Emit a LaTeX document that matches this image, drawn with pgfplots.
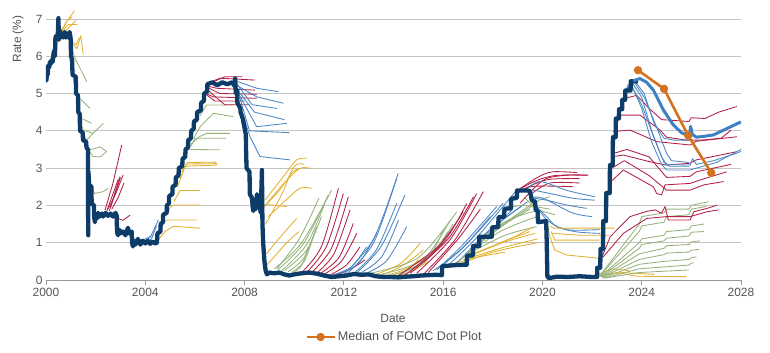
\documentclass[border=0pt]{standalone}
\usepackage{pgfplots}
\pgfplotsset{compat=1.18}
\usepackage{fontspec}
\setmainfont{Liberation Sans}
\definecolor{navy}{HTML}{0D3C68}
\definecolor{fblue}{HTML}{4A85C4}
\definecolor{tblue}{HTML}{3F80C2}
\definecolor{fred}{HTML}{B21E45}
\definecolor{fgreen}{HTML}{95B27A}
\definecolor{fyel}{HTML}{E4B12E}
\definecolor{dotor}{HTML}{D3731F}
\definecolor{txt}{HTML}{555555}
\definecolor{gridc}{HTML}{C4C4C4}
\pgfplotsset{
 fc/.style={forget plot, line width=0.85bp, line join=round},
 Y/.style={fc, fyel},
 G/.style={fc, fgreen},
 R/.style={fc, fred},
 B/.style={fc, fblue},
 S/.style={smooth, tension=0.5},
}
\begin{document}
\begin{tikzpicture}
\useasboundingbox (0,0) rectangle (770bp,353bp);
\begin{axis}[
 at={(46bp,73bp)}, anchor=south west,
 width=695bp, height=279.75bp, scale only axis,
 xmin=2000, xmax=2028, ymin=0, ymax=7.5,
 xtick={2000,2004,...,2028}, ytick={0,1,...,7},
 axis x line*=bottom, axis y line*=left,
 y axis line style={draw=none},
 x axis line style={draw=gray!80, line width=0.9bp},
 xtick align=outside,
 xtick style={draw=gray!80, line width=0.9bp},
 ytick style={draw=none},
 major tick length=5bp,
 ymajorgrids, grid style={gridc, line width=0.8bp},
 /pgf/number format/1000 sep={},
 /pgf/number format/assume math mode=true,
 tick label style={font=\fontsize{12}{14}\selectfont, text=txt},
 xlabel={Date}, ylabel={Rate (\%)},
 label style={font=\fontsize{12}{14}\selectfont, text=txt},
 xlabel style={at={(axis description cs:0.4993,-0.136)}, anchor=center},
 ylabel style={at={(axis description cs:-0.0403,0.8615)}, anchor=center, rotate=0},
 legend style={at={(0.5014,-0.2038)}, anchor=center, draw=none, fill=none,
   font=\fontsize{12.6}{14}\selectfont, text=txt},
 legend image code/.code={\draw[mark repeat=2,mark phase=2,#1] plot coordinates {(0bp,0bp) (14bp,0bp) (28bp,0bp)};},
]
% ---------- forward curves 2000-2004 ----------
\addplot[Y] coordinates {(2000.45,6.45)(2000.8,6.9)(2001.15,7.22)};
\addplot[Y] coordinates {(2000.5,6.5)(2000.85,6.95)(2001.05,7.05)};
\addplot[Y] coordinates {(2000.55,6.6)(2000.9,6.85)(2001.25,6.85)};
\addplot[Y] coordinates {(2000.6,6.55)(2000.9,6.75)(2001.2,6.95)};
\addplot[Y] coordinates {(2000.95,6.45)(2001.2,6.3)(2001.35,6.5)};
\addplot[Y] coordinates {(2000.95,6.4)(2001.25,6.2)(2001.4,6.55)(2001.5,6.05)};
\addplot[Y] coordinates {(2000.3,6.1)(2000.5,6.4)(2000.6,6.55)};
\addplot[G] coordinates {(2001.0,6.3)(2001.17,5.94)(2001.64,5.32)};
\addplot[G] coordinates {(2001.1,5.4)(2001.3,4.91)(2001.77,4.6)};
\addplot[G] coordinates {(2001.25,4.8)(2001.44,4.33)(2001.84,4.2)};
\addplot[G] coordinates {(2001.35,4.3)(2001.5,4.02)(2001.9,3.93)};
\addplot[G] coordinates {(2001.45,3.95)(2001.64,3.75)(2001.97,3.98)(2002.31,4.2)};
\addplot[G] coordinates {(2001.55,3.7)(2001.77,3.49)(2002.18,3.57)(2002.45,3.44)};
\addplot[G] coordinates {(2001.6,3.6)(2001.9,3.31)(2002.2,3.3)(2002.45,3.45)};
\addplot[G] coordinates {(2001.8,2.5)(2001.97,2.32)(2002.31,2.37)(2002.51,2.46)};
\addplot[R] coordinates {(2002.38,1.88)(2002.7,2.6)(2003.05,3.62)};
\addplot[R] coordinates {(2002.5,1.9)(2002.8,2.3)(2003.11,2.82)};
\addplot[R] coordinates {(2002.6,1.95)(2002.98,2.77)};
\addplot[R] coordinates {(2002.65,1.9)(2002.9,2.2)(2003.14,2.6)};
\addplot[R] coordinates {(2002.45,1.85)(2002.91,2.7)};
\addplot[R] coordinates {(2002.9,1.65)(2003.1,1.6)(2003.39,1.74)};
\addplot[R] coordinates {(2002.55,1.85)(2002.85,2.45)(2003.0,2.75)};
\addplot[B] coordinates {(2003.9,1.0)(2004.2,1.15)(2004.53,1.61)};
\addplot[B] coordinates {(2003.95,0.98)(2004.25,1.1)(2004.45,1.45)};
\addplot[B] coordinates {(2003.6,1.05)(2004.0,1.1)(2004.3,1.2)};
% ---------- 2004-2008 ----------
\addplot[Y] coordinates {(2004.55,1.1)(2004.8,1.3)(2005.13,1.44)(2006.2,1.39)};
\addplot[Y] coordinates {(2004.7,1.5)(2004.86,1.61)(2006.07,1.61)};
\addplot[Y] coordinates {(2004.9,1.75)(2005.0,1.95)(2005.13,2.01)(2006.2,2.01)};
\addplot[Y] coordinates {(2005.15,2.1)(2005.4,2.4)(2006.2,2.4)};
\addplot[Y] coordinates {(2005.3,2.5)(2005.6,3.05)(2006.88,3.08)};
\addplot[Y] coordinates {(2005.4,2.7)(2005.65,3.11)(2006.9,3.12)};
\addplot[Y] coordinates {(2005.45,2.9)(2005.7,3.15)(2006.85,3.16)};
\addplot[G] coordinates {(2005.75,3.5)(2005.87,3.66)(2006.2,3.85)(2006.47,3.93)(2007.41,3.93)};
\addplot[G] coordinates {(2005.85,3.6)(2006.0,3.8)(2007.25,3.8)};
\addplot[G] coordinates {(2005.8,3.5)(2007.0,3.49)};
\addplot[G] coordinates {(2005.95,3.8)(2006.2,4.1)(2006.74,4.47)(2007.55,4.38)};
\addplot[G] coordinates {(2006.2,4.4)(2006.47,4.69)(2007.55,4.69)};
\addplot[R] coordinates {(2006.45,5.0)(2006.74,4.91)(2008.49,4.87)};
\addplot[R] coordinates {(2006.5,5.2)(2006.88,5.14)(2008.42,5.09)};
\addplot[R] coordinates {(2006.6,5.3)(2007.01,5.41)(2008.42,5.36)};
\addplot[R] coordinates {(2006.55,5.15)(2007.0,5.0)(2008.5,4.98)};
\addplot[R] coordinates {(2006.5,5.1)(2007.2,4.7)(2008.2,4.7)};
\addplot[R] coordinates {(2006.7,5.3)(2007.2,5.45)(2007.9,5.45)};
\addplot[R] coordinates {(2006.4,5.0)(2006.8,4.8)(2008.0,4.8)};
\addplot[B] coordinates {(2007.55,5.36)(2008.49,5.14)(2009.36,5.05)};
\addplot[B] coordinates {(2007.55,5.27)(2008.49,4.91)(2009.56,4.74)};
\addplot[B] coordinates {(2007.6,5.2)(2008.4,4.5)(2009.6,4.3)};
\addplot[B] coordinates {(2007.75,5.0)(2008.49,4.11)(2009.7,4.2)};
\addplot[B] coordinates {(2007.8,4.9)(2008.2,4.0)(2009.8,3.95)};
\addplot[B] coordinates {(2007.8,4.7)(2008.22,3.84)(2008.62,3.31)(2009.83,3.22)};
\addplot[B] coordinates {(2007.7,5.25)(2008.3,4.7)(2009.3,4.6)};
% ---------- 2008-2016 ----------
\addplot[Y,S] coordinates {(2008.82,2.14)(2009.56,2.77)(2010.1,3.22)(2010.5,3.26)};
\addplot[Y,S] coordinates {(2008.89,2.05)(2009.6,2.6)(2010.23,2.99)(2010.7,2.99)};
\addplot[Y,S] coordinates {(2008.96,1.7)(2009.6,2.1)(2010.23,2.46)(2010.7,2.46)};
\addplot[Y,S] coordinates {(2008.89,0.71)(2009.5,1.2)(2010.1,1.65)};
\addplot[Y] coordinates {(2008.3,2.06)(2009.7,1.97)};
\addplot[Y,S] coordinates {(2008.7,1.9)(2009.4,2.4)(2009.95,2.9)(2010.3,3.0)};
\addplot[Y,S] coordinates {(2008.9,0.4)(2009.7,1.0)(2010.2,1.3)};
\addplot[Y,S] coordinates {(2008.85,1.5)(2009.5,2.3)(2010.0,3.05)(2010.4,3.1)};
\addplot[G,S] coordinates {(2009.2,0.3)(2010.3,1.0)(2011.51,2.41)};
\addplot[G,S] coordinates {(2009.35,0.28)(2010.4,1.0)(2011.37,2.28)};
\addplot[G,S] coordinates {(2009.5,0.25)(2010.5,0.95)(2011.24,2.06)};
\addplot[G,S] coordinates {(2009.6,0.25)(2010.5,0.8)(2011.1,1.7)};
\addplot[G,S] coordinates {(2009.75,0.22)(2010.4,0.6)(2010.9,1.43)};
\addplot[G,S] coordinates {(2009.9,0.2)(2010.4,0.5)(2010.77,1.16)};
\addplot[G,S] coordinates {(2010.0,0.2)(2010.3,0.4)(2010.57,0.89)};
\addplot[G,S] coordinates {(2009.3,0.3)(2010.2,1.1)(2011.0,2.2)};
\addplot[R,S] coordinates {(2010.3,0.2)(2011.1,0.9)(2011.78,2.46)};
\addplot[R,S] coordinates {(2010.5,0.2)(2011.3,0.9)(2011.98,2.32)};
\addplot[R,S] coordinates {(2010.7,0.2)(2011.5,0.85)(2012.18,2.23)};
\addplot[R,S] coordinates {(2010.9,0.18)(2011.6,0.7)(2012.25,1.88)};
\addplot[R,S] coordinates {(2011.0,0.15)(2011.8,0.6)(2012.38,1.52)};
\addplot[R,S] coordinates {(2011.2,0.15)(2011.9,0.5)(2012.52,1.25)};
\addplot[R,S] coordinates {(2011.4,0.12)(2012.1,0.4)(2012.65,0.89)};
\addplot[R,S] coordinates {(2011.6,0.12)(2012.3,0.3)(2012.85,0.54)};
\addplot[B,S] coordinates {(2012.0,0.15)(2013.2,1.1)(2014.19,2.86)};
\addplot[B,S] coordinates {(2012.1,0.15)(2013.2,1.0)(2014.13,2.73)};
\addplot[B,S] coordinates {(2012.4,0.12)(2013.5,0.9)(2014.46,2.28)};
\addplot[B,S] coordinates {(2012.3,0.12)(2013.3,0.8)(2014.13,2.06)};
\addplot[B,S] coordinates {(2012.7,0.12)(2013.7,0.5)(2014.53,1.43)};
\addplot[B,S] coordinates {(2011.7,0.12)(2012.6,0.45)(2013.32,1.25)};
\addplot[B,S] coordinates {(2011.5,0.12)(2012.3,0.35)(2012.92,0.89)};
\addplot[B,S] coordinates {(2012.5,0.12)(2013.5,0.6)(2014.2,1.6)};
\addplot[Y,S] coordinates {(2013.3,0.15)(2014.3,0.45)(2015.07,0.98)};
\addplot[Y,S] coordinates {(2013.5,0.12)(2014.4,0.4)(2015.2,0.8)};
\addplot[Y,S] coordinates {(2013.7,0.12)(2014.5,0.3)(2015.25,0.62)};
\addplot[Y,S] coordinates {(2013.8,0.1)(2014.5,0.25)(2015.0,0.54)};
\addplot[Y,S] coordinates {(2014.0,0.1)(2014.7,0.22)(2015.4,0.5)};
\addplot[G,S] coordinates {(2013.05,0.18)(2015.0,0.6)(2016.55,1.83)};
\addplot[G,S] coordinates {(2013.5,0.15)(2015.2,0.55)(2016.28,1.6)};
\addplot[G,S] coordinates {(2013.9,0.12)(2015.3,0.5)(2016.0,1.34)};
\addplot[G,S] coordinates {(2014.2,0.12)(2015.4,0.6)(2016.2,1.3)};
\addplot[G,S] coordinates {(2014.4,0.12)(2015.6,0.7)(2016.4,1.5)};
\addplot[R,S] coordinates {(2014.13,0.09)(2015.8,0.9)(2016.81,1.83)};
\addplot[R,S] coordinates {(2014.4,0.1)(2016.0,1.0)(2016.95,2.05)};
\addplot[R,S] coordinates {(2014.67,0.18)(2016.2,1.1)(2017.22,2.23)};
\addplot[R,S] coordinates {(2014.93,0.18)(2016.3,1.1)(2017.35,2.32)};
\addplot[R,S] coordinates {(2015.2,0.15)(2016.5,1.1)(2017.62,2.37)};
\addplot[R,S] coordinates {(2015.4,0.2)(2016.6,1.1)(2017.5,1.9)};
% ---------- 2016-2022 ----------
\addplot[B,S] coordinates {(2015.74,0.27)(2016.8,0.95)(2018.16,1.97)};
\addplot[B,S] coordinates {(2015.9,0.35)(2017.0,1.0)(2018.42,2.06)};
\addplot[B,S] coordinates {(2016.2,0.4)(2017.3,1.1)(2018.96,2.41)};
\addplot[B,S] coordinates {(2016.4,0.4)(2017.5,1.0)(2018.8,1.9)};
\addplot[B,S] coordinates {(2015.6,0.25)(2016.7,0.8)(2017.9,1.7)};
\addplot[B,S] coordinates {(2016.7,0.55)(2017.8,1.3)(2019.2,2.0)};
\addplot[B,S] coordinates {(2017.0,0.7)(2018.0,1.4)(2019.4,2.1)};
\addplot[G,S] coordinates {(2016.55,0.45)(2018.0,1.3)(2019.77,2.06)};
\addplot[G,S] coordinates {(2016.8,0.6)(2018.3,1.3)(2019.77,1.7)};
\addplot[G,S] coordinates {(2017.0,0.7)(2018.5,1.2)(2019.77,1.43)};
\addplot[G,S] coordinates {(2017.3,0.9)(2018.5,1.5)(2019.5,1.9)};
\addplot[G,S] coordinates {(2017.5,1.1)(2018.6,1.6)(2019.7,1.85)};
\addplot[G,S] coordinates {(2018.29,1.43)(2019.63,2.06)(2020.3,2.23)};
\addplot[G,S] coordinates {(2018.5,1.9)(2019.2,2.0)(2020.3,1.9)};
\addplot[G,S] coordinates {(2019.3,2.2)(2019.8,1.9)(2020.5,1.75)};
\addplot[Y,S] coordinates {(2016.6,0.4)(2018.0,0.75)(2019.8,1.0)};
\addplot[Y,S] coordinates {(2016.8,0.53)(2018.3,0.85)(2019.8,1.1)};
\addplot[Y,S] coordinates {(2017.0,0.62)(2018.4,1.0)(2019.7,1.25)};
\addplot[Y,S] coordinates {(2017.2,0.7)(2018.5,1.05)(2019.5,1.3)};
\addplot[Y,S] coordinates {(2016.3,0.4)(2017.3,0.6)(2018.5,0.75)};
\addplot[Y,S] coordinates {(2018.3,0.99)(2019.0,1.2)(2019.6,1.42)};
\addplot[R,S] coordinates {(2019.0,2.4)(2019.7,2.65)(2020.5,2.8)(2021.78,2.81)};
\addplot[R,S] coordinates {(2018.9,2.3)(2019.6,2.55)(2020.3,2.7)(2021.5,2.72)};
\addplot[R,S] coordinates {(2018.8,2.2)(2019.5,2.5)(2021.25,2.5)};
\addplot[R,S] coordinates {(2019.1,2.45)(2019.8,2.75)(2020.4,2.9)(2021.4,2.88)};
\addplot[R,S] coordinates {(2019.1,2.06)(2020.04,2.68)(2020.98,2.81)(2021.85,2.81)};
\addplot[R,S] coordinates {(2019.6,2.33)(2020.3,2.6)(2021.5,2.6)};
\addplot[B,S] coordinates {(2019.3,2.4)(2019.9,2.64)(2021.0,2.4)(2022.12,2.23)};
\addplot[B,S] coordinates {(2019.63,2.41)(2020.3,2.32)(2021.25,2.19)(2022.1,2.14)};
\addplot[B,S] coordinates {(2019.6,2.2)(2020.17,2.14)(2020.98,2.01)(2021.78,1.92)};
\addplot[B,S] coordinates {(2019.7,2.0)(2020.17,1.7)(2020.58,1.43)(2021.38,1.29)(2022.32,1.25)};
\addplot[B,S] coordinates {(2019.75,2.0)(2020.2,1.6)(2020.98,1.35)(2022.3,1.35)};
\addplot[B,S] coordinates {(2019.5,2.2)(2020.0,2.2)(2021.2,1.8)(2022.0,1.7)};
\addplot[Y] coordinates {(2020.2,1.5)(2020.3,1.16)(2020.5,0.8)(2020.98,0.67)(2022.32,0.58)};
\addplot[Y] coordinates {(2020.3,1.45)(2020.44,1.39)(2022.9,1.39)};
\addplot[Y] coordinates {(2020.35,1.3)(2020.5,1.07)(2022.3,1.07)};
\addplot[Y] coordinates {(2020.4,1.25)(2021.5,1.2)(2022.7,1.2)};
% ---------- 2022-2028 ----------
\addplot[Y] coordinates {(2022.1,0.08)(2023.0,0.2)(2023.8,0.1)(2025.8,0.09)};
\addplot[Y] coordinates {(2022.1,0.12)(2022.8,0.3)(2023.5,0.25)};
\addplot[Y] coordinates {(2022.15,0.1)(2023.2,0.2)(2024.5,0.15)};
\addplot[G] coordinates {(2022.3,0.1)(2023.9,1.5)(2024.0,1.7)(2024.9,1.8)(2025.0,1.9)(2025.9,1.9)(2026.0,2.0)(2026.7,2.1)};
\addplot[G] coordinates {(2022.3,0.1)(2023.9,1.3)(2024.0,1.45)(2024.9,1.55)(2025.0,1.7)(2025.9,1.75)(2026.0,1.9)(2026.6,1.97)};
\addplot[G] coordinates {(2022.35,0.1)(2023.9,1.0)(2024.0,1.1)(2024.9,1.2)(2025.0,1.3)(2025.9,1.35)(2026.0,1.45)(2026.5,1.5)};
\addplot[G] coordinates {(2022.35,0.08)(2023.9,0.85)(2024.0,0.95)(2024.9,1.05)(2025.0,1.12)(2025.9,1.18)(2026.0,1.28)(2026.5,1.3)};
\addplot[G] coordinates {(2022.4,0.08)(2023.9,0.7)(2024.9,0.85)(2025.0,0.92)(2025.9,0.95)(2026.0,1.02)(2026.35,1.05)};
\addplot[G] coordinates {(2022.4,0.07)(2023.9,0.55)(2024.9,0.68)(2025.0,0.72)(2025.9,0.75)(2026.0,0.8)(2026.3,0.82)};
\addplot[G] coordinates {(2022.45,0.06)(2023.9,0.42)(2024.9,0.5)(2025.9,0.55)(2026.0,0.6)(2026.2,0.62)};
\addplot[G] coordinates {(2022.5,0.05)(2023.9,0.3)(2025.9,0.4)(2026.0,0.45)(2026.1,0.46)};
\addplot[G] coordinates {(2022.5,0.05)(2023.9,0.2)(2025.9,0.27)};
\addplot[R] coordinates {(2022.19,0.27)(2022.73,1.16)(2023.53,1.7)(2024.2,1.84)(2024.54,1.88)(2024.8,1.79)(2024.94,1.97)(2025.07,1.61)(2025.95,1.61)(2026.1,1.83)(2026.63,1.92)(2027.04,2.01)};
\addplot[R] coordinates {(2022.45,0.62)(2023.26,1.25)(2024.2,1.65)(2025.0,1.7)(2025.95,1.7)(2026.63,1.83)(2027.1,1.88)};
\addplot[R] coordinates {(2022.7,2.6)(2023.26,2.95)(2024.47,2.5)(2024.6,2.32)(2024.8,2.28)(2024.94,2.55)(2025.95,2.59)(2026.35,2.68)(2027.42,2.9)};
\addplot[R] coordinates {(2022.8,3.0)(2023.3,3.2)(2024.3,2.8)(2025.0,2.41)(2025.95,2.41)(2026.5,2.55)(2027.3,2.64)};
\addplot[R] coordinates {(2022.86,3.31)(2023.26,3.35)(2024.33,3.17)(2025.0,3.08)(2025.95,3.13)(2026.2,3.22)(2027.83,3.44)};
\addplot[R] coordinates {(2022.9,3.4)(2023.4,3.5)(2024.3,3.3)(2025.0,2.75)(2025.95,2.78)(2026.2,2.9)(2027.6,3.1)};
\addplot[R] coordinates {(2022.86,3.98)(2023.53,4.02)(2024.6,3.71)(2025.95,3.62)(2026.2,3.72)(2027.83,3.84)};
\addplot[R] coordinates {(2022.99,4.42)(2023.93,4.42)(2024.74,4.02)(2025.0,3.83)(2025.8,3.75)(2026.4,3.75)(2027.2,3.8)(2027.6,4.02)};
\addplot[R] coordinates {(2023.2,4.85)(2023.8,4.95)(2024.3,4.6)(2024.8,4.3)(2025.9,4.25)(2026.0,4.35)(2026.55,4.33)(2027.1,4.5)(2027.83,4.65)};
\addplot[B] coordinates {(2023.4,5.2)(2023.7,5.35)(2024.1,5.0)(2024.5,4.2)(2024.9,3.8)(2025.3,3.75)(2025.95,3.75)};
\addplot[B] coordinates {(2023.35,5.1)(2023.6,5.3)(2024.0,4.9)(2024.4,4.0)(2024.8,3.3)(2025.0,3.1)(2025.95,3.08)(2026.05,3.25)(2026.2,3.1)(2026.9,3.2)(2027.83,3.4)(2028.0,3.45)};
\addplot[B] coordinates {(2023.3,5.0)(2023.6,5.2)(2024.0,4.6)(2024.4,3.7)(2024.8,3.1)(2025.0,2.95)(2025.95,2.95)(2026.2,3.0)(2027.0,3.15)(2028.0,3.5)};
\addplot[B] coordinates {(2023.35,5.05)(2023.55,5.25)(2024.0,4.7)(2024.5,3.8)(2024.9,3.15)(2025.1,3.05)(2025.9,3.05)};
\addplot[B] coordinates {(2023.4,5.15)(2023.7,5.3)(2024.1,4.9)(2024.6,4.1)(2025.0,3.4)(2025.2,3.2)(2025.9,3.15)};
% ---------- effective fed funds rate ----------
\addplot[forget plot, navy, line width=4.3bp, line join=round] coordinates {
(2000.00,5.45)(2000.02,5.35)(2000.04,5.65)(2000.07,5.5)(2000.09,5.75)(2000.13,5.7)(2000.16,5.85)(2000.2,5.8)
(2000.23,5.9)(2000.27,5.85)(2000.3,6.05)(2000.33,6.15)(2000.36,6.0)(2000.38,6.5)(2000.42,6.55)(2000.46,6.5)
(2000.48,6.65)(2000.5,7.02)(2000.52,6.45)(2000.55,6.7)(2000.6,6.5)(2000.65,6.6)(2000.7,6.5)(2000.75,6.65)
(2000.8,6.5)(2000.85,6.6)(2000.9,6.5)(2000.95,6.65)(2000.99,6.5)(2001.01,6.0)(2001.05,5.9)(2001.07,5.5)
(2001.2,5.45)(2001.21,5.0)(2001.29,4.95)(2001.30,4.5)(2001.36,4.45)(2001.37,4.0)(2001.48,3.95)(2001.49,3.75)
(2001.62,3.7)(2001.63,3.55)(2001.69,3.5)(2001.70,1.2)(2001.71,2.9)(2001.74,2.55)(2001.83,2.5)(2001.84,2.05)
(2001.93,2.0)(2001.94,1.7)(2001.97,1.55)(2002.0,1.75)(2002.05,1.65)(2002.1,1.8)(2002.15,1.7)(2002.25,1.78)
(2002.3,1.7)(2002.4,1.8)(2002.5,1.72)(2002.6,1.78)(2002.7,1.7)(2002.8,1.8)(2002.85,1.72)(2002.86,1.3)
(2002.9,1.2)(2002.95,1.35)(2003.0,1.25)(2003.1,1.3)(2003.2,1.2)(2003.3,1.4)(2003.35,1.25)(2003.45,1.3)
(2003.47,1.0)(2003.5,0.9)(2003.55,1.05)(2003.6,0.95)(2003.7,1.1)(2003.8,0.95)(2003.9,1.05)(2004.0,0.98)
(2004.1,1.05)(2004.2,0.97)(2004.3,1.03)(2004.4,0.98)(2004.47,1.0)(2004.49,1.25)(2004.61,1.3)(2004.62,1.5)
(2004.71,1.55)(2004.72,1.75)(2004.86,1.8)(2004.87,2.0)(2004.95,2.05)(2004.96,2.25)(2005.09,2.3)(2005.1,2.5)
(2005.22,2.55)(2005.23,2.75)(2005.34,2.8)(2005.35,3.0)(2005.49,3.05)(2005.5,3.25)(2005.61,3.3)(2005.62,3.5)
(2005.72,3.55)(2005.73,3.75)(2005.84,3.8)(2005.85,4.0)(2005.95,4.05)(2005.96,4.25)(2006.08,4.3)(2006.09,4.5)
(2006.24,4.55)(2006.25,4.75)(2006.36,4.8)(2006.37,5.0)(2006.49,5.05)(2006.5,5.25)(2006.7,5.3)(2006.9,5.22)
(2007.1,5.3)(2007.3,5.25)(2007.5,5.3)(2007.6,5.2)(2007.62,5.4)(2007.65,5.0)(2007.7,5.1)(2007.71,4.75)
(2007.83,4.6)(2007.84,4.5)(2007.94,4.3)(2007.95,4.25)(2008.05,3.9)(2008.06,3.5)(2008.08,3.0)(2008.2,2.9)
(2008.21,2.3)(2008.3,2.2)(2008.32,2.0)(2008.35,1.85)(2008.4,2.1)(2008.45,1.9)(2008.5,2.3)(2008.55,1.95)
(2008.6,2.05)(2008.65,1.8)(2008.7,2.95)(2008.72,1.5)(2008.75,1.0)(2008.8,0.5)(2008.85,0.25)(2008.9,0.15)
(2009.0,0.2)(2009.2,0.18)(2009.4,0.2)(2009.6,0.15)(2009.8,0.12)(2010.0,0.15)(2010.3,0.18)(2010.6,0.2)
(2010.9,0.17)(2011.2,0.12)(2011.5,0.08)(2011.8,0.1)(2012.1,0.12)(2012.4,0.16)(2012.7,0.14)(2013.0,0.15)
(2013.3,0.1)(2013.6,0.08)(2013.9,0.08)(2014.2,0.07)(2014.5,0.09)(2014.8,0.1)(2015.1,0.12)(2015.4,0.13)
(2015.7,0.14)(2015.95,0.13)(2015.96,0.37)(2016.5,0.4)(2016.95,0.41)(2016.96,0.65)(2017.2,0.66)(2017.21,0.91)
(2017.45,0.91)(2017.46,1.16)(2017.96,1.16)(2017.97,1.41)(2018.22,1.42)(2018.23,1.68)(2018.46,1.7)(2018.47,1.91)
(2018.73,1.92)(2018.74,2.18)(2018.97,2.2)(2018.98,2.4)(2019.4,2.4)(2019.5,2.38)(2019.57,2.14)(2019.71,2.1)
(2019.72,1.9)(2019.81,1.83)(2019.82,1.55)(2020.15,1.58)(2020.17,1.1)(2020.2,0.1)(2020.25,0.05)(2020.6,0.09)
(2021.0,0.08)(2021.5,0.1)(2022.0,0.08)(2022.2,0.08)(2022.21,0.33)(2022.33,0.33)(2022.34,0.83)(2022.44,0.83)
(2022.45,1.58)(2022.56,1.58)(2022.57,2.33)(2022.71,2.33)(2022.72,3.08)(2022.83,3.08)(2022.84,3.83)(2022.95,3.83)
(2022.96,4.33)(2023.08,4.33)(2023.09,4.58)(2023.21,4.58)(2023.22,4.83)(2023.33,4.83)(2023.34,5.08)(2023.55,5.08)
(2023.56,5.33)(2023.85,5.33)};
% ---------- current market curve ----------
\addplot[forget plot, tblue, line width=3bp, line join=round] coordinates {
(2023.66,5.34)(2023.93,5.40)(2024.2,5.3)(2024.47,5.09)(2024.87,4.56)(2025.27,4.16)(2025.6,3.95)(2025.81,3.89)
(2025.93,3.9)(2025.97,4.12)(2026.04,3.9)(2026.2,3.83)(2026.5,3.85)(2026.89,3.89)(2027.4,4.05)(2028.0,4.24)};
% ---------- FOMC median ----------
\addplot[dotor, line width=2.6bp, mark=*, mark size=2.8bp, mark options={fill=dotor, draw=dotor}]
 coordinates {(2023.85,5.625)(2024.9,5.125)(2025.87,3.875)(2026.8,2.875)};
\addlegendentry{Median of FOMC Dot Plot}
\end{axis}
\end{tikzpicture}
\end{document}
